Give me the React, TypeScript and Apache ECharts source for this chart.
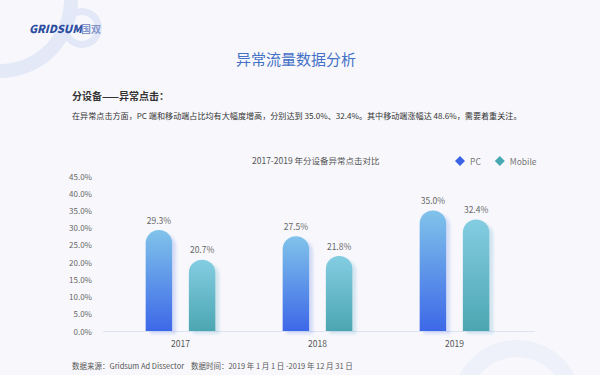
import React, { useEffect, useRef } from "react";
import * as echarts from "echarts";

const years = ["2017", "2018", "2019"];
const pcValues = [29.3, 27.5, 35.0];
const mobileValues = [20.7, 21.8, 32.4];
const seriesNames = ["PC", "Mobile"];

const FONT = "'Noto Sans CJK SC', 'Noto Sans', sans-serif";

export default function App() {
  const ref = useRef<HTMLDivElement>(null);
  useEffect(() => {
    if (!ref.current) return;
    const chart = echarts.init(ref.current, undefined, { renderer: "svg" });
    const pcGrad = new echarts.graphic.LinearGradient(0, 0, 0, 1, [
      { offset: 0, color: "#80c3ea" },
      { offset: 1, color: "#3d68e8" },
    ]);
    const mbGrad = new echarts.graphic.LinearGradient(0, 0, 0, 1, [
      { offset: 0, color: "#84cde2" },
      { offset: 1, color: "#4ca6b2" },
    ]);
    const labelCfg = {
      show: true,
      position: "top" as const,
      distance: 6,
      color: "#666",
      fontSize: 8.5,
      fontFamily: FONT,
      formatter: (p: any) => p.value.toFixed(1) + "%",
    };
    chart.setOption({
      animation: false,
      backgroundColor: "#f8f8fc",
      textStyle: { fontFamily: FONT },
      title: {
        text: "2017-2019 年分设备异常点击对比",
        left: 247,
        top: 151,
        textStyle: { fontSize: 8.5, color: "#555", fontWeight: "normal", fontFamily: FONT },
      },
      legend: {
        data: [
          { name: seriesNames[0], itemStyle: { color: "#3a63e6" } },
          { name: seriesNames[1], itemStyle: { color: "#48a9b3" } },
        ],
        left: 450,
        top: 151,
        icon: "diamond",
        itemWidth: 10,
        itemHeight: 10,
        itemGap: 14,
        textStyle: { fontSize: 8.5, color: "#777", fontFamily: FONT },
      },
      grid: { left: 112, right: 77, top: 176, bottom: 44 },
      xAxis: {
        type: "category",
        data: years,
        axisLine: { show: false },
        axisTick: { show: false },
        axisLabel: { color: "#555", fontSize: 8.5, margin: 8, fontFamily: FONT },
      },
      yAxis: {
        type: "value",
        min: 0,
        max: 45,
        interval: 5,
        axisLine: { show: false },
        axisTick: { show: false },
        splitLine: { show: false },
        axisLabel: {
          color: "#666",
          fontSize: 8,
          margin: 20,
          fontFamily: FONT,
          formatter: (v: number) => v.toFixed(1) + "%",
        },
      },
      series: [
        {
          name: seriesNames[0],
          type: "bar",
          data: pcValues,
          barWidth: 26.5,
          barGap: "63%",
          itemStyle: {
            color: pcGrad,
            borderRadius: [13, 13, 0, 0],
            shadowColor: "rgba(110,140,230,0.25)",
            shadowOffsetX: 4,
            shadowOffsetY: 3,
            shadowBlur: 3,
          },
          label: labelCfg,
        },
        {
          name: seriesNames[1],
          type: "bar",
          data: mobileValues,
          barWidth: 26.5,
          itemStyle: {
            color: mbGrad,
            borderRadius: [13, 13, 0, 0],
            shadowColor: "rgba(100,170,200,0.25)",
            shadowOffsetX: 4,
            shadowOffsetY: 3,
            shadowBlur: 3,
          },
          label: labelCfg,
        },
      ],
      graphic: [
        {
          type: "ring",
          z: -10,
          shape: { cx: 0, cy: 0, r: 78, r0: 64 },
          style: { fill: "#e4e9f8" },
        },
        {
          type: "ring",
          z: -10,
          shape: { cx: 82, cy: 28, r: 20, r0: 13 },
          style: { fill: "#e2e8f8" },
        },
        {
          type: "ring",
          z: -10,
          shape: { cx: 517, cy: 405, r: 65, r0: 48 },
          style: { fill: "#eef0fa" },
        },
        {
          type: "line",
          shape: { x1: 103, y1: 331.5, x2: 535, y2: 331.5 },
          style: { stroke: "#dde3f3", lineWidth: 1 },
        },
        {
          type: "text",
          x: 29,
          y: 28,
          style: {
            text: "GRIDSUM",
            font: `italic 900 11px ${FONT}`,
            fill: "#2c4d9f",
            verticalAlign: "middle",
          },
        },
        {
          type: "text",
          x: 81,
          y: 28,
          style: {
            text: "国双",
            font: `bold 10px ${FONT}`,
            fill: "#8394c8",
            verticalAlign: "middle",
          },
        },
        {
          type: "text",
          x: 296,
          y: 58,
          style: {
            text: "异常流量数据分析",
            font: `15px ${FONT}`,
            fill: "#4470c6",
            align: "center",
            verticalAlign: "middle",
          },
        },
        {
          type: "text",
          x: 72,
          y: 95,
          style: {
            text: "分设备——异常点击：",
            font: `bold 10px ${FONT}`,
            fill: "#333",
            verticalAlign: "middle",
          },
        },
        {
          type: "text",
          x: 72,
          y: 115,
          style: {
            text: "在异常点击方面，PC 端和移动端占比均有大幅度增高，分别达到 35.0%、32.4%。其中移动端涨幅达 48.6%，需要着重关注。",
            font: `8.1px ${FONT}`,
            fill: "#333",
            verticalAlign: "middle",
          },
        },
        {
          type: "text",
          x: 72,
          y: 365,
          style: {
            text: "数据来源：Gridsum Ad Dissector    数据时间：2019 年 1 月 1 日 -2019 年 12 月 31 日",
            font: `7.5px ${FONT}`,
            fill: "#555",
            verticalAlign: "middle",
          },
        },
      ],
    });
    return () => chart.dispose();
  }, []);
  return <div ref={ref} style={{ width: 600, height: 375, position: "fixed", left: 0, top: 0 }} />;
}
